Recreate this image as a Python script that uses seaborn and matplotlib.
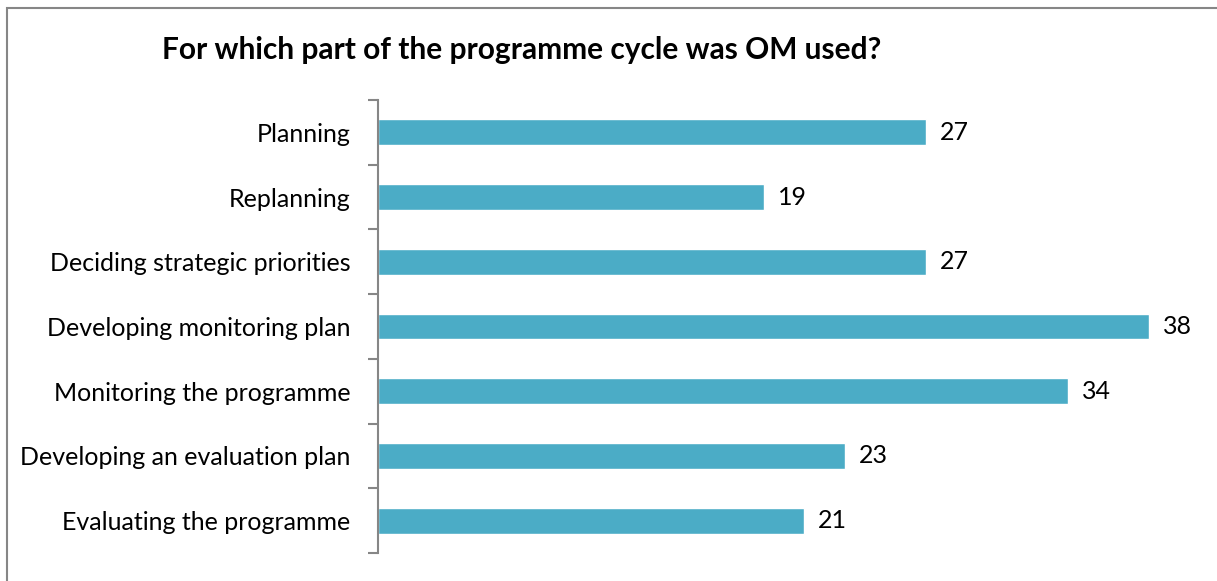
import matplotlib
matplotlib.use("Agg")
import matplotlib.pyplot as plt
import seaborn as sns
import pandas as pd
from matplotlib.patches import Rectangle

categories = ["Planning", "Replanning", "Deciding strategic priorities",
              "Developing monitoring plan", "Monitoring the programme",
              "Developing an evaluation plan", "Evaluating the programme"]
values = [27, 19, 27, 38, 34, 23, 21]
title = "For which part of the programme cycle was OM used?"

sns.set_theme(style="white")
plt.rcParams['font.family'] = ['Lato', 'DejaVu Sans']

W, H = 1217, 581
fig = plt.figure(figsize=(W / 100, H / 100), dpi=100)
ax = fig.add_axes([378 / W, 1 - 553 / H, (1190 - 378) / W, (553 - 100) / H])

df = pd.DataFrame({"cat": categories, "val": values})
sns.barplot(data=df, y="cat", x="val", orient="h", color="#4BACC6",
            saturation=1, width=0.4, ax=ax)

ax.set_xlim(0, 40)
ax.set_ylim(len(categories) - 0.5, -0.5)
ax.set_xlabel("")
ax.set_ylabel("")
ax.set_xticks([])
for s in ["top", "right", "bottom"]:
    ax.spines[s].set_visible(False)
ax.spines["left"].set_color("#868686")
ax.spines["left"].set_linewidth(1.5)

# tick marks at category boundaries, labels at centers
ax.set_yticks([i - 0.5 for i in range(len(categories) + 1)], minor=False)
ax.set_yticklabels([""] * (len(categories) + 1))
ax.tick_params(axis="y", which="major", length=7, width=1.5, color="#868686", left=True, direction="out")
ax.set_yticks(range(len(categories)), minor=True)
ax.set_yticklabels(categories, minor=True, fontsize=18, color="black")
ax.tick_params(axis="y", which="minor", length=0, pad=20)

for c in ax.containers:
    ax.bar_label(c, labels=[str(v) for v in values], padding=10, fontsize=18, color="black")

fig.text(522 / W, 1 - 50 / H, title, ha="center", va="center",
         fontsize=21.5, fontweight="bold", color="black")

fig.patches.append(Rectangle((7 / W, -0.1), 1.2, 1 - 8 / H + 0.1, transform=fig.transFigure,
                             fill=False, edgecolor="#868686", linewidth=1.5))

fig.savefig("out.png", dpi=100)
